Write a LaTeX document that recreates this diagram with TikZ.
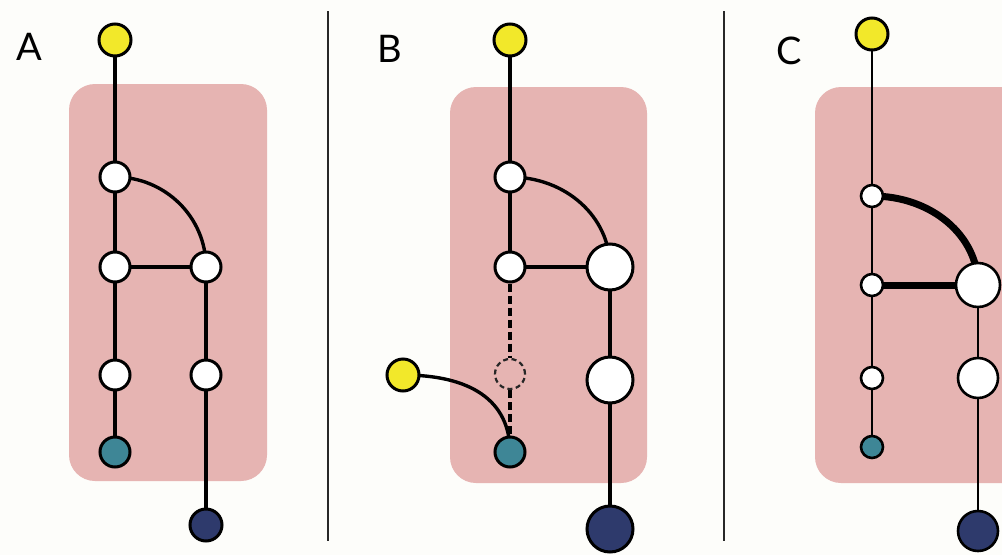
\documentclass[tikz,border=0pt]{standalone}
\usepackage{fontspec}
\setmainfont{Lato}
\pgfdeclarelayer{back}
\pgfdeclarelayer{mid}
\pgfsetlayers{back,mid,main}
\definecolor{pinkbg}{RGB}{230,180,178}
\definecolor{ylw}{RGB}{242,232,42}
\definecolor{tealn}{RGB}{62,134,150}
\definecolor{navyn}{RGB}{46,58,108}
\definecolor{bgc}{RGB}{253,253,250}
\definecolor{sepc}{RGB}{40,40,40}
\tikzset{
  nd/.style={circle,draw=black,line width=3pt,inner sep=0pt},
  ndc/.style={circle,draw=black,line width=2.6pt,inner sep=0pt},
  wA/.style={nd,fill=white,minimum size=30pt},
  wbig/.style={nd,fill=white,minimum size=46pt},
  yl/.style={nd,fill=ylw,minimum size=32pt},
  tl/.style={nd,fill=tealn,minimum size=30pt},
  nv/.style={nd,fill=navyn,minimum size=32pt},
  nvbig/.style={nd,fill=navyn,minimum size=46pt},
  dashc/.style={circle,draw=black!85,line width=2.2pt,dash pattern=on 5pt off 3.5pt,inner sep=0pt,minimum size=30pt},
  wC/.style={ndc,fill=white,minimum size=22pt},
  tC/.style={ndc,fill=tealn,minimum size=22pt},
  ed/.style={line width=3.4pt},
  edthin/.style={line width=1.7pt},
  edthick/.style={line width=7pt},
  eddash/.style={line width=3.4pt,dash pattern=on 8pt off 4pt},
  panel/.style={fill=pinkbg,rounded corners=26pt},
  sep/.style={draw=sepc,line width=2.2pt},
  lbl/.style={font=\fontsize{38}{38}\selectfont,text=black,inner sep=0pt}
}
\begin{document}
\begin{tikzpicture}[x=1pt,y=-1pt]
\useasboundingbox (0,0) rectangle (1002,555);
\begin{pgfonlayer}{back}
\fill[bgc] (0,0) rectangle (1002,555);
\fill[panel] (69,84) rectangle (267,481);
\fill[panel] (450,87) rectangle (647,483);
\fill[panel] (815,87) rectangle (1040,483);
\end{pgfonlayer}
% separators
\coordinate (s1t) at (328,11); \coordinate (s1b) at (328,541);
\coordinate (s2t) at (724,11); \coordinate (s2b) at (724,541);
\draw[sep] (s1t) -- (s1b);
\draw[sep] (s2t) -- (s2b);
% labels
\node[lbl] (la) at (29,47) {A};
\node[lbl] (lb) at (390,49) {B};
\node[lbl] (lc) at (789,51) {C};
% ---------- Panel A
\node[yl] (ay) at (115,40) {};
\node[wA] (a1) at (115,177) {};
\node[wA] (a2) at (115,267) {};
\node[wA] (a3) at (206,267) {};
\node[wA] (a4) at (115,375) {};
\node[wA] (a5) at (206,375) {};
\node[tl] (at) at (115,452) {};
\node[nv] (an) at (206,525) {};
\begin{pgfonlayer}{mid}
\draw[ed] (ay.center) -- (a1.center) -- (a2.center) -- (a4.center) -- (at.center);
\draw[ed] (a2.center) -- (a3.center) -- (a5.center) -- (an.center);
\draw[ed] (a1.center) .. controls (165,177) and (206,217) .. (a3.center);
\end{pgfonlayer}
% ---------- Panel B
\node[yl] (by) at (510,40) {};
\node[wA] (b1) at (510,177) {};
\node[wA] (b2) at (510,267) {};
\node[wbig] (b3) at (610,267) {};
\node[dashc] (b4) at (510,374) {};
\node[wbig] (b5) at (610,380) {};
\node[tl] (bt) at (510,452) {};
\node[nvbig] (bn) at (610,529) {};
\node[yl] (byl) at (403,375) {};
\begin{pgfonlayer}{mid}
\draw[ed] (by.center) -- (b1.center) -- (b2.center) -- (b3.center) -- (b5.center) -- (bn.center);
\draw[ed] (b1.center) .. controls (566,177) and (610,217) .. (b3.center);
\draw[eddash] (b2.south) -- (b4.north);
\draw[eddash] (b4.south) -- (bt.north);
\draw[ed] (byl.center) .. controls (470,375) and (510,400) .. (bt.center);
\end{pgfonlayer}
% ---------- Panel C
\node[yl] (cy) at (872,34) {};
\node[wC] (c1) at (872,196) {};
\node[wC] (c2) at (872,285) {};
\node[ndc,fill=white,minimum size=44pt] (c3) at (978,285) {};
\node[wC] (c4) at (872,378) {};
\node[ndc,fill=white,minimum size=40pt] (c5) at (978,378) {};
\node[tC] (ct) at (872,447) {};
\node[ndc,fill=navyn,minimum size=40pt] (cn) at (978,531) {};
\begin{pgfonlayer}{mid}
\draw[edthin] (cy.center) -- (c1.center) -- (c2.center) -- (c4.center) -- (ct.center);
\draw[edthin] (c3.center) -- (c5.center) -- (cn.center);
\draw[edthick] (c2.center) -- (c3.center);
\draw[edthick] (c1.center) .. controls (932,196) and (978,236) .. (c3.center);
\end{pgfonlayer}
\end{tikzpicture}
\end{document}
